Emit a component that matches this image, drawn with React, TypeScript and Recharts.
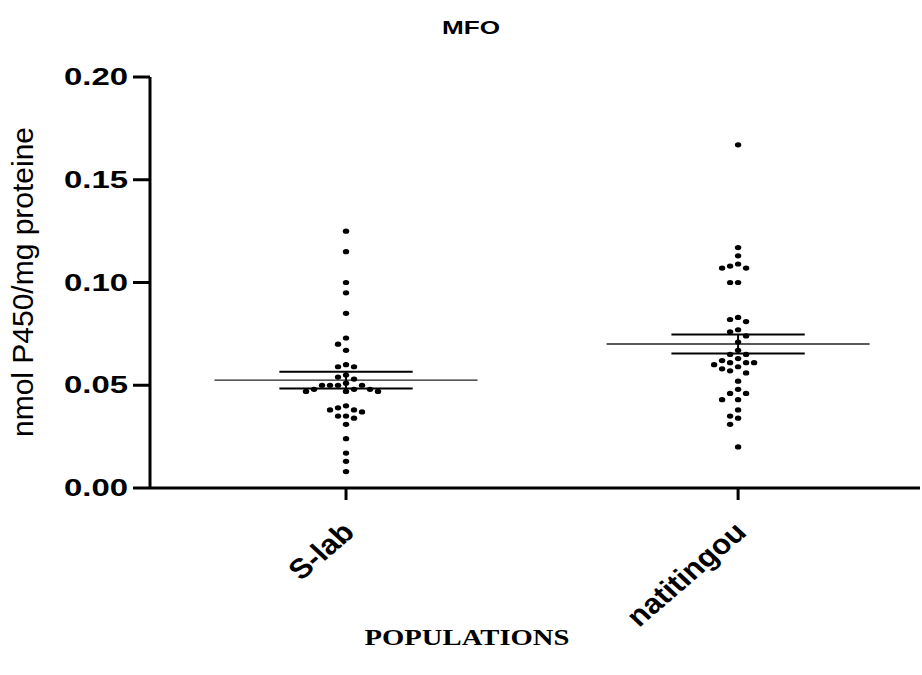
import React from "react";
import { ScatterChart, Scatter, XAxis, YAxis, ReferenceLine } from "recharts";

// values (nmol P450 / mg proteine)
const categories = ["S-lab", "natitingou"];

const sLab = [
  0.125, 0.115, 0.1, 0.095, 0.085, 0.073, 0.07, 0.067,
  0.06, 0.059, 0.059, 0.055, 0.054, 0.053, 0.051,
  0.05, 0.05, 0.05, 0.05, 0.048, 0.048, 0.047, 0.047, 0.047, 0.048,
  0.04, 0.039, 0.038, 0.038, 0.037, 0.035, 0.035, 0.034,
  0.031, 0.024, 0.017, 0.013, 0.008,
];

const natitingou = [
  0.167, 0.117, 0.113, 0.109, 0.107, 0.107, 0.108, 0.1, 0.1,
  0.082, 0.081, 0.083, 0.076, 0.077, 0.074, 0.071, 0.067,
  0.065, 0.065, 0.063, 0.061, 0.061, 0.06, 0.061, 0.062,
  0.058, 0.056, 0.057, 0.059, 0.052, 0.048, 0.046, 0.046,
  0.043, 0.043, 0.038, 0.034, 0.035, 0.031, 0.02,
];

const yTicks = [0, 0.05, 0.1, 0.15, 0.2];
const xTicks = [0.5, 1.5];

const W = 922;
const H = 675;
const PLOT = { left: 150, top: 77, right: 920, bottom: 488 };
const X_MAX = 1.964;
const Y_MAX = 0.2;
const FONT = "Arial, 'Liberation Sans', sans-serif";

// simple beeswarm: put each dot in the nearest free column
function swarm(values: number[], center: number) {
  const pxPerY = (PLOT.bottom - PLOT.top) / Y_MAX;
  const xPerPx = X_MAX / (PLOT.right - PLOT.left);
  const step = 8;
  const minGap = 7.5;
  const placed: { col: number; py: number }[] = [];
  return [...values]
    .sort((a, b) => b - a)
    .map((v) => {
      const py = v * pxPerY;
      let col = 0;
      for (let k = 0; k < 30; k++) {
        const c = k === 0 ? 0 : k % 2 ? -Math.ceil(k / 2) : k / 2;
        if (!placed.some((p) => p.col === c && Math.abs(p.py - py) < minGap)) {
          col = c;
          break;
        }
      }
      placed.push({ col, py });
      return { x: center + col * step * xPerPx, y: v };
    });
}

function stats(values: number[]) {
  const n = values.length;
  const mean = values.reduce((s, v) => s + v, 0) / n;
  const sd = Math.sqrt(values.reduce((s, v) => s + (v - mean) ** 2, 0) / (n - 1));
  return { mean, sem: sd / Math.sqrt(n) };
}

const groups = [sLab, natitingou].map((vals, i) => ({
  center: xTicks[i],
  points: swarm(vals, xTicks[i]),
  ...stats(vals),
}));

const MEAN_HALF = 0.3355;
const SEM_HALF = 0.17;

const Dot = (props: any) => (
  <ellipse cx={props.cx} cy={props.cy} rx={3.2} ry={2.6} fill="#000" />
);

const XTick = ({ x, y, payload }: any) => {
  const label = categories[Math.round(payload.value - 0.5)];
  return (
    <text
      transform={`translate(${x + 10},${y + 32}) scale(1.12,1) rotate(-44)`}
      textAnchor="end"
      fontFamily={FONT}
      fontWeight="bold"
      fontSize={28}
      fill="#000"
    >
      {label}
    </text>
  );
};

const YTick = ({ x, y, payload }: any) => (
  <text
    x={x}
    y={y + 8}
    textAnchor="end"
    fontFamily={FONT}
    fontWeight="bold"
    fontSize={23}
    textLength={64}
    lengthAdjust="spacingAndGlyphs"
    fill="#000"
  >
    {payload.value.toFixed(2)}
  </text>
);

export default function App() {
  return (
    <div style={{ position: "absolute", left: 0, top: 0, width: W, height: H, background: "#fff" }}>
      <ScatterChart
        width={W}
        height={H}
        margin={{ top: PLOT.top, right: W - PLOT.right, bottom: 0, left: 0 }}
      >
        <XAxis
          type="number"
          dataKey="x"
          domain={[0, X_MAX]}
          allowDataOverflow
          ticks={xTicks}
          height={H - PLOT.bottom}
          tickSize={12}
          tick={<XTick />}
          axisLine={{ stroke: "#000", strokeWidth: 3 }}
          tickLine={{ stroke: "#000", strokeWidth: 3 }}
        />
        <YAxis
          type="number"
          dataKey="y"
          domain={[0, Y_MAX]}
          allowDataOverflow
          ticks={yTicks}
          width={PLOT.left}
          tickSize={17}
          tickMargin={5}
          tick={<YTick />}
          axisLine={{ stroke: "#000", strokeWidth: 3 }}
          tickLine={{ stroke: "#000", strokeWidth: 3 }}
        />
        {groups.map((g, i) => (
          <Scatter
            key={categories[i]}
            name={categories[i]}
            data={g.points}
            shape={<Dot />}
            isAnimationActive={false}
          />
        ))}
        {groups.map((g, i) => [
          <ReferenceLine
            key={`m${i}`}
            segment={[
              { x: g.center - MEAN_HALF, y: g.mean },
              { x: g.center + MEAN_HALF, y: g.mean },
            ]}
            stroke="#222"
            strokeWidth={1.3}
            ifOverflow="visible"
          />,
          <ReferenceLine
            key={`h${i}`}
            segment={[
              { x: g.center - SEM_HALF, y: g.mean + g.sem },
              { x: g.center + SEM_HALF, y: g.mean + g.sem },
            ]}
            stroke="#000"
            strokeWidth={2}
            ifOverflow="visible"
          />,
          <ReferenceLine
            key={`l${i}`}
            segment={[
              { x: g.center - SEM_HALF, y: g.mean - g.sem },
              { x: g.center + SEM_HALF, y: g.mean - g.sem },
            ]}
            stroke="#000"
            strokeWidth={2}
            ifOverflow="visible"
          />,
          <ReferenceLine
            key={`v${i}`}
            segment={[
              { x: g.center, y: g.mean - g.sem },
              { x: g.center, y: g.mean + g.sem },
            ]}
            stroke="#000"
            strokeWidth={2}
            ifOverflow="visible"
          />,
        ])}
      </ScatterChart>
      <svg
        width={W}
        height={H}
        style={{ position: "absolute", left: 0, top: 0, pointerEvents: "none" }}
      >
        <text
          x={471}
          y={34}
          textAnchor="middle"
          fontFamily={FONT}
          fontWeight="bold"
          fontSize={19}
          textLength={58}
          lengthAdjust="spacingAndGlyphs"
        >
          MFO
        </text>
        <text
          transform="translate(33,282) rotate(-90)"
          textAnchor="middle"
          fontFamily={FONT}
          fontSize={29}
          textLength={310}
          lengthAdjust="spacingAndGlyphs"
        >
          nmol P450/mg proteine
        </text>
        <text
          x={467}
          y={645}
          textAnchor="middle"
          fontFamily="'Liberation Serif', 'Times New Roman', serif"
          fontWeight="bold"
          fontSize={24}
          textLength={205}
          lengthAdjust="spacingAndGlyphs"
        >
          POPULATIONS
        </text>
      </svg>
    </div>
  );
}
